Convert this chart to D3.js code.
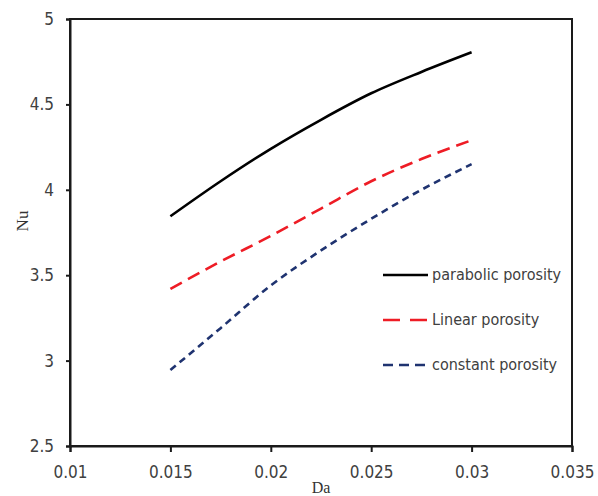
<!DOCTYPE html>
<html>
<head>
<meta charset="utf-8">
<script src="https://cdn.jsdelivr.net/npm/d3@7"></script>
<style>
  body { margin: 0; background: #fff; }
  .tick text { font-family: "Liberation Sans Narrow", "DejaVu Sans Condensed", sans-serif; fill: #404040; }
</style>
</head>
<body>
<div id="chart"></div>
<script>
const da = [0.015, 0.0175, 0.02, 0.0225, 0.025, 0.0275, 0.03];
const parabolic = [3.845, 4.05, 4.24, 4.41, 4.565, 4.69, 4.805];
const linear = [3.42, 3.58, 3.73, 3.89, 4.05, 4.18, 4.29];
const constant = [2.945, 3.19, 3.44, 3.645, 3.83, 4.0, 4.15];
const xTicks = [0.01, 0.015, 0.02, 0.025, 0.03, 0.035];
const yTicks = [2.5, 3, 3.5, 4, 4.5, 5];

const series = [
  { name: "parabolic porosity", values: parabolic, color: "#000000", dash: null, legDash: null },
  { name: "Linear porosity", values: linear, color: "#ee1c25", dash: "13,7", legDash: "17,10" },
  { name: "constant porosity", values: constant, color: "#1f3370", dash: "7,5", legDash: "10,6" }
];

const width = 598, height = 496;
const margin = { left: 70, right: 26, top: 19, bottom: 50 };

const svg = d3.select("#chart").append("svg")
  .attr("width", width).attr("height", height);

const x = d3.scaleLinear().domain([0.01, 0.035]).range([margin.left, width - margin.right]);
const y = d3.scaleLinear().domain([2.5, 5]).range([height - margin.bottom, margin.top]);

// frame
svg.append("rect")
  .attr("x", x(0.01)).attr("y", y(5))
  .attr("width", x(0.035) - x(0.01)).attr("height", y(2.5) - y(5))
  .attr("fill", "none").attr("stroke", "#1a1a1a").attr("stroke-width", 2);

const xAxis = svg.append("g")
  .attr("transform", `translate(0,${y(2.5)})`)
  .call(d3.axisBottom(x).tickValues(xTicks).tickFormat(d3.format("")).tickSize(6).tickPadding(14));
const yAxis = svg.append("g")
  .attr("transform", `translate(${x(0.01)},0)`)
  .call(d3.axisLeft(y).tickValues(yTicks).tickFormat(d3.format("")).tickSize(4).tickPadding(12));

[xAxis, yAxis].forEach(a => {
  a.select(".domain").attr("stroke", "#1a1a1a").attr("stroke-width", 2);
  a.selectAll(".tick line").attr("stroke", "#1a1a1a").attr("stroke-width", 2);
  a.selectAll(".tick text").style("font-size", "17px");
});

const line = d3.line()
  .x((d, i) => x(da[i]))
  .y(d => y(d))
  .curve(d3.curveMonotoneX);

series.forEach(s => {
  svg.append("path")
    .attr("d", line(s.values))
    .attr("fill", "none")
    .attr("stroke", s.color)
    .attr("stroke-width", 2.6)
    .attr("stroke-dasharray", s.dash);
});

// legend
const legend = svg.append("g");
series.forEach((s, i) => {
  const ly = 275 + i * 45;
  legend.append("line")
    .attr("x1", 383).attr("x2", 428).attr("y1", ly).attr("y2", ly)
    .attr("stroke", s.color).attr("stroke-width", 2.6)
    .attr("stroke-dasharray", s.legDash);
  legend.append("text")
    .attr("x", 432).attr("y", ly + 5)
    .style("font-family", "'Liberation Sans Narrow', 'DejaVu Sans Condensed', sans-serif")
    .style("font-size", "16px")
    .attr("fill", "#404040")
    .text(s.name);
});

// axis titles
svg.append("text")
  .attr("x", 321).attr("y", 493)
  .attr("text-anchor", "middle")
  .style("font-family", "'Liberation Serif', serif")
  .style("font-size", "16px")
  .attr("fill", "#333")
  .text("Da");

svg.append("text")
  .attr("transform", "translate(28,221) rotate(-90)")
  .attr("text-anchor", "middle")
  .style("font-family", "'Liberation Serif', serif")
  .style("font-size", "17px")
  .attr("fill", "#333")
  .text("Nu");
</script>
</body>
</html>
